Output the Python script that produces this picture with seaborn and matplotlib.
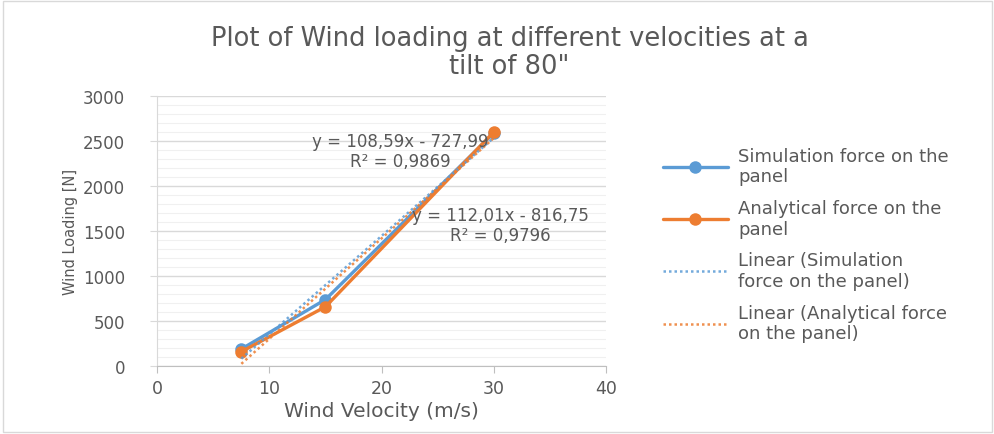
import numpy as np
import pandas as pd
import matplotlib.pyplot as plt
import seaborn as sns
from matplotlib.ticker import MultipleLocator

velocity = [7.5, 15, 30]
sim_force = [190, 740, 2590]
ana_force = [160, 660, 2600]
sim_label = "Simulation force on the\npanel"
ana_label = "Analytical force on the\npanel"
sim_trend_label = "Linear (Simulation\nforce on the panel)"
ana_trend_label = "Linear (Analytical force\non the panel)"
sim_eq = "y = 108,59x - 727,99\nR² = 0,9869"
ana_eq = "y = 112,01x - 816,75\nR² = 0,9796"

blue = '#5B9BD5'
orange = '#ED7D31'
grey = '#595959'

sns.set_style('white')
plt.rcParams['font.family'] = ['DejaVu Sans']

df = pd.DataFrame({'v': velocity, 'sim': sim_force, 'ana': ana_force})

fig = plt.figure(figsize=(9.95, 4.35), dpi=100)
ax = fig.add_axes([0.158, 0.156, 0.451, 0.621])

sns.lineplot(data=df, x='v', y='sim', ax=ax, color=blue, lw=2.4, marker='o',
             markersize=9, markeredgewidth=0, label=sim_label)
sns.lineplot(data=df, x='v', y='ana', ax=ax, color=orange, lw=2.4, marker='o',
             markersize=9, markeredgewidth=0, label=ana_label)

# linear trendlines over the data range
xs = np.array([min(velocity), max(velocity)])
for ys, c, lab in [(sim_force, blue, sim_trend_label), (ana_force, orange, ana_trend_label)]:
    k, b = np.polyfit(velocity, ys, 1)
    ax.plot(xs, k * xs + b, color=c, lw=1.8, ls=(0, (1, 1.2)), alpha=0.85, label=lab)

ax.text(21.7, 2390, sim_eq, ha='center', va='center', fontsize=12, color=grey, linespacing=1.15)
ax.text(30.6, 1570, ana_eq, ha='center', va='center', fontsize=12, color=grey, linespacing=1.15)

ax.set_xlim(0, 40)
ax.set_ylim(0, 3000)
ax.xaxis.set_major_locator(MultipleLocator(10))
ax.yaxis.set_major_locator(MultipleLocator(500))
ax.yaxis.set_minor_locator(MultipleLocator(100))
ax.grid(axis='y', which='major', color='#D9D9D9', lw=1)
ax.grid(axis='y', which='minor', color='#F0F0F0', lw=0.8)
ax.set_axisbelow(True)
for s in ['top', 'right']:
    ax.spines[s].set_visible(False)
ax.spines['left'].set_color('#D9D9D9')
ax.spines['bottom'].set_color('#BFBFBF')
ax.tick_params(axis='x', which='major', length=5, color='#BFBFBF', bottom=True,
               labelsize=12.5, labelcolor=grey, pad=4)
ax.tick_params(axis='y', which='major', length=5, color='#D9D9D9', left=True,
               labelsize=12, labelcolor=grey, pad=18)
ax.tick_params(axis='y', which='minor', length=0)

ax.set_xlabel('Wind Velocity (m/s)', fontsize=14.5, color=grey, labelpad=3)
ax.set_ylabel('Wind Loading [N]', fontsize=10.5, color=grey, labelpad=4)

fig.suptitle('Plot of Wind loading at different velocities at a\ntilt of 80"',
             x=0.512, y=0.94, fontsize=18.5, color=grey, linespacing=1.1)

handles, labels = ax.get_legend_handles_labels()
leg = ax.legend(handles, labels, loc='center left', bbox_to_anchor=(1.09, 0.45),
                frameon=False, fontsize=13, labelcolor=grey, handlelength=3.6,
                labelspacing=0.75, handletextpad=0.6)

fig.patches.append(plt.Rectangle((0.003, 0.005), 0.994, 0.99, transform=fig.transFigure,
                                 fill=False, edgecolor='#D9D9D9', lw=1))

fig.savefig('out.png', dpi=100)
